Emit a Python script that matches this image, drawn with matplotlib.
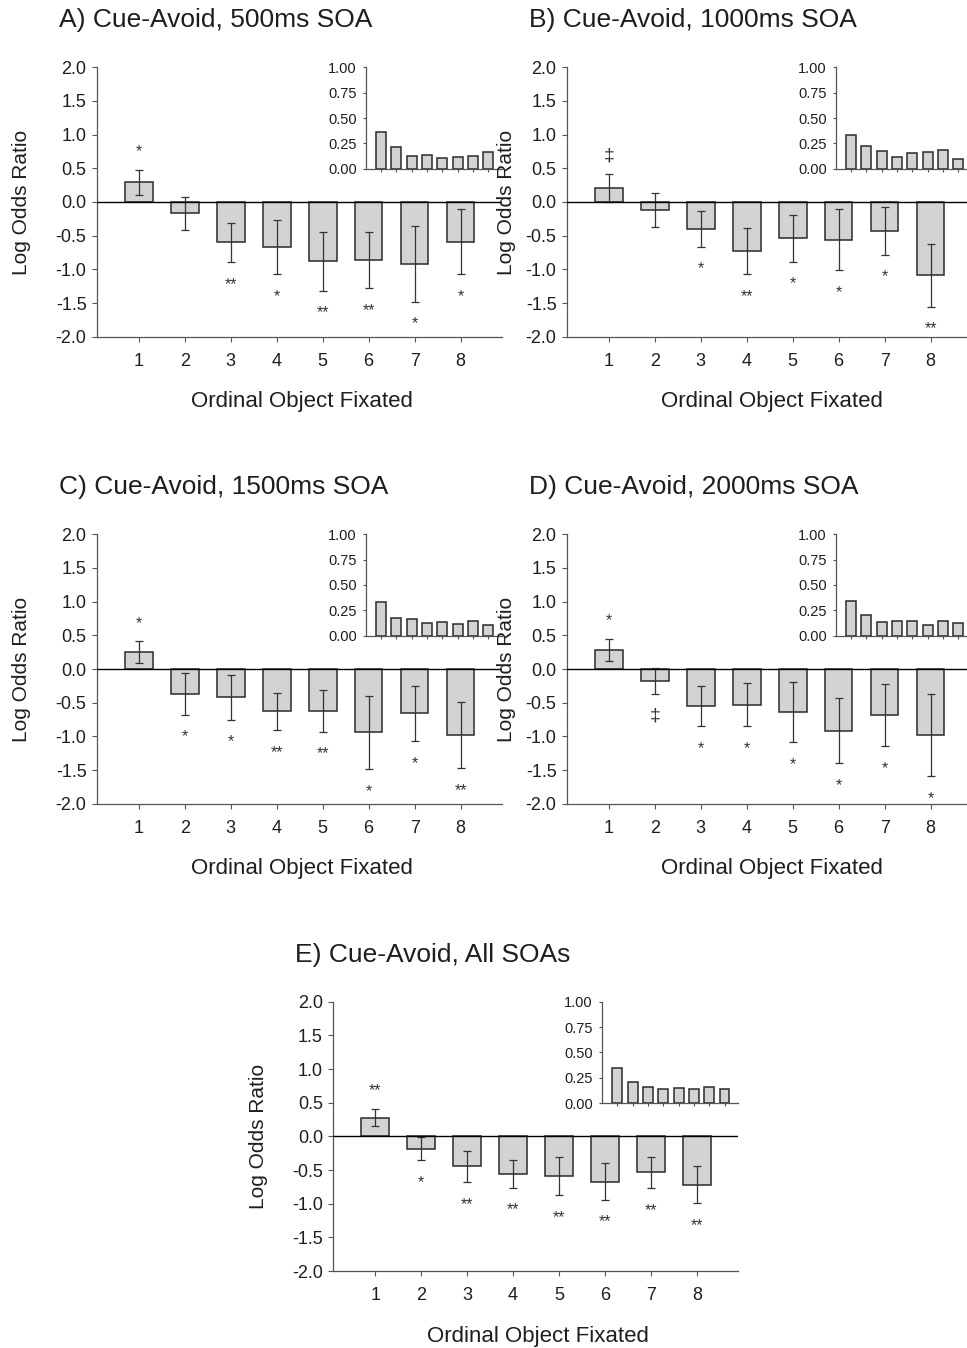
import matplotlib
matplotlib.use("Agg")
import matplotlib.pyplot as plt

plt.rcParams['font.family'] = ['Liberation Sans', 'DejaVu Sans']

W, H = 967, 1348
ORD = [1, 2, 3, 4, 5, 6, 7, 8]

# log odds ratio, error bar half-length, significance marks, inset proportions
A_lor = [0.29, -0.17, -0.60, -0.67, -0.88, -0.86, -0.92, -0.59]
A_err = [0.19, 0.25, 0.29, 0.40, 0.44, 0.42, 0.56, 0.48]
A_sig = ['*', '', '**', '*', '**', '**', '*', '*']
A_prop = [0.36, 0.21, 0.13, 0.135, 0.11, 0.12, 0.13, 0.165]

B_lor = [0.21, -0.12, -0.40, -0.73, -0.54, -0.56, -0.43, -1.09]
B_err = [0.21, 0.25, 0.265, 0.34, 0.345, 0.455, 0.35, 0.465]
B_sig = ['\u2021', '', '*', '**', '*', '*', '*', '**']
B_prop = [0.33, 0.225, 0.17, 0.12, 0.155, 0.16, 0.185, 0.095]

C_lor = [0.25, -0.37, -0.42, -0.63, -0.62, -0.94, -0.66, -0.98]
C_err = [0.16, 0.31, 0.33, 0.275, 0.31, 0.545, 0.415, 0.49]
C_sig = ['*', '*', '*', '**', '**', '*', '*', '**']
C_prop = [0.337, 0.175, 0.165, 0.125, 0.135, 0.115, 0.145, 0.105]

D_lor = [0.28, -0.18, -0.55, -0.53, -0.64, -0.915, -0.69, -0.98]
D_err = [0.165, 0.195, 0.30, 0.32, 0.445, 0.48, 0.46, 0.615]
D_sig = ['*', '\u2021', '*', '*', '*', '*', '*', '*']
D_prop = [0.347, 0.20, 0.14, 0.148, 0.142, 0.11, 0.148, 0.13]

E_lor = [0.28, -0.18, -0.445, -0.555, -0.585, -0.67, -0.535, -0.72]
E_err = [0.125, 0.175, 0.235, 0.205, 0.285, 0.27, 0.235, 0.275]
E_sig = ['**', '*', '**', '**', '**', '**', '**', '**']
E_prop = [0.35, 0.207, 0.158, 0.138, 0.145, 0.135, 0.158, 0.135]

BAR = "#d3d3d3"
EDGE = "#2a2a2a"
SPINE = "#555555"
TXT = "#1e1e1e"

fig = plt.figure(figsize=(W / 100, H / 100), dpi=100)


def fx(px): return px / W
def fy(py): return 1 - py / H


def style(ax, fs, tlen):
    for s in ("top", "right"):
        ax.spines[s].set_visible(False)
    for s in ("left", "bottom"):
        ax.spines[s].set_color(SPINE)
        ax.spines[s].set_linewidth(0.9)
    ax.tick_params(direction="out", length=tlen, width=0.8, color=SPINE,
                   labelsize=fs, labelcolor=TXT, pad=4)


def panel(left, top, title, lor, err, sig, prop, ylab_off=75):
    width, height = 405, 269.4
    ax = fig.add_axes([fx(left), fy(top + height), fx(width), height / H])
    ax.bar(ORD, lor, width=0.6, color=BAR, edgecolor=EDGE, linewidth=1.1, zorder=2)
    ax.errorbar(ORD, lor, yerr=err, fmt="none", ecolor="#333333", elinewidth=0.9,
                capsize=3, capthick=0.9, zorder=3)
    ax.axhline(0, color="black", lw=1.0, zorder=4)
    for x, v, e, s in zip(ORD, lor, err, sig):
        if not s:
            continue
        y = v + e + 0.3 if v > 0 else v - e - 0.3
        fs = 14 if s == '\u2021' else 11.5
        ax.text(x, y - 0.03, s, ha="center", va="center", fontsize=fs, color="#333333")
    ax.set_xlim(0.09, 8.9)
    ax.set_ylim(-2, 2)
    ax.set_yticks([-2, -1.5, -1, -0.5, 0, 0.5, 1, 1.5, 2])
    ax.set_yticklabels([f"{t:.1f}" for t in [-2, -1.5, -1, -0.5, 0, 0.5, 1, 1.5, 2]])
    ax.set_xticks(ORD)
    style(ax, 13, 3.5)
    ax.tick_params(axis="x", pad=8)

    # inset: proportion of fixations
    iw, ih = 136.3, 101.4
    ins = fig.add_axes([fx(left + 268.7), fy(top + ih), fx(iw), ih / H])
    ins.bar(ORD, prop, width=0.65, color=BAR, edgecolor=EDGE, linewidth=1.1)
    ins.set_xlim(0, 8.9)
    ins.set_ylim(0, 1)
    ins.set_yticks([0, 0.25, 0.5, 0.75, 1.0])
    ins.set_yticklabels(["0.00", "0.25", "0.50", "0.75", "1.00"])
    ins.set_xticks(ORD)
    ins.set_xticklabels([])
    ins.patch.set_alpha(0)
    style(ins, 10.5, 2.5)
    ins.tick_params(axis="x", length=2)

    fig.text(fx(left - 38), fy(top - 47), title, fontsize=19, color=TXT,
             ha="left", va="center")
    fig.text(fx(left - ylab_off), fy(top + height / 2), "Log Odds Ratio", fontsize=15,
             color=TXT, rotation=90, ha="center", va="center")
    fig.text(fx(left + width / 2 + 2), fy(top + height + 65), "Ordinal Object Fixated",
             fontsize=16, color=TXT, ha="center", va="center")


panel(97, 67.3, "A) Cue-Avoid, 500ms SOA", A_lor, A_err, A_sig, A_prop)
panel(567, 67.3, "B) Cue-Avoid, 1000ms SOA", B_lor, B_err, B_sig, B_prop, ylab_off=61)
panel(97, 534.3, "C) Cue-Avoid, 1500ms SOA", C_lor, C_err, C_sig, C_prop)
panel(567, 534.3, "D) Cue-Avoid, 2000ms SOA", D_lor, D_err, D_sig, D_prop, ylab_off=61)
panel(333.3, 1001.7, "E) Cue-Avoid, All SOAs", E_lor, E_err, E_sig, E_prop)

fig.savefig("out.png", dpi=100)
